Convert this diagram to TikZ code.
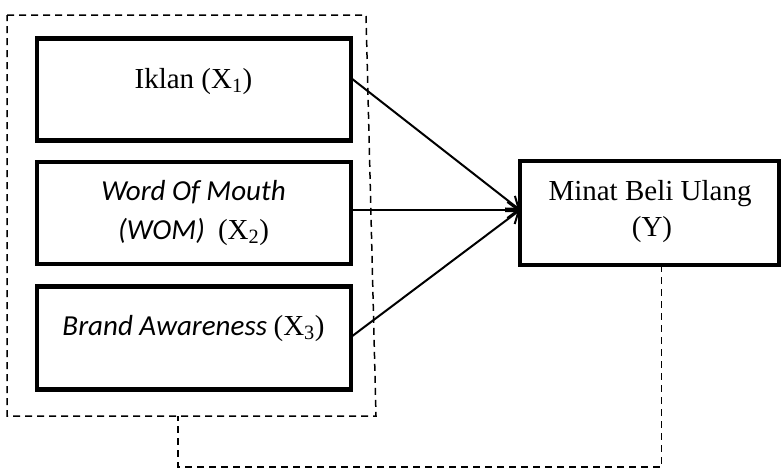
\documentclass[tikz,border=0pt]{standalone}
\usepackage{fontspec}
\setmainfont{Liberation Serif}
\newfontfamily\calibrifont{Carlito}
\usetikzlibrary{arrows.meta,calc}
\begin{document}
\begin{tikzpicture}[x=1pt,y=-1pt,
  box/.style={draw, line width=4.5pt, rectangle, inner sep=0pt, outer sep=0pt},
  link/.style={line width=2pt, -{Straight Barb[length=11pt,width=16pt,line width=2pt]}},
  dashline/.style={line width=1.5pt, dash pattern=on 7pt off 5pt},
  lbl/.style={font=\fontsize{29}{36}\selectfont, inner sep=0pt, anchor=base}]
\useasboundingbox (0,0) rectangle (783,469);
% boxes
\node[box, minimum width=314pt, minimum height=102pt] (b1) at (194,89.5) {};
\node[box, minimum width=314pt, minimum height=102pt] (b2) at (194,213) {};
\node[box, minimum width=314pt, minimum height=103pt] (b3) at (194,338) {};
\node[box, minimum width=259pt, minimum height=104pt] (y) at (649.5,213) {};
% labels
\node[lbl] (t1) at (193.5,88) {Iklan (X\textsubscript{1})};
\node[lbl] (t2a) at (193.5,200) {{\calibrifont\itshape Word Of Mouth}};
\node[lbl] (t2b) at (193.5,239) {{\calibrifont\itshape (WOM)\ \ }(X\textsubscript{2})};
\node[lbl] (t3) at (193.5,335) {{\calibrifont\itshape Brand Awareness }(X\textsubscript{3})};
\node[lbl] (ty1) at (650,200) {Minat Beli Ulang};
\node[lbl] (ty2) at (652,236) {(Y)};
% arrows
\draw[link] ([yshift=11.5pt]b1.east) -- ([yshift=3pt]y.west);
\draw[link] ([yshift=3pt]b2.east) -- ([yshift=3pt]y.west);
\draw[link] ([yshift=1pt]b3.east) -- ([yshift=3pt]y.west);
% dashed group
\coordinate (gtl) at (7,15);
\coordinate (gtr) at (366,15);
\coordinate (gbr) at (376,416);
\coordinate (gbl) at (7,416);
\draw[dashline] (gtl) -- (gtr) -- (gbr) -- (gbl) -- cycle;
\coordinate (gb) at (178,416);
\coordinate (turn) at (178,467);
\draw[dashline] ([xshift=12pt]y.south) |- (turn) -- (gb);
\end{tikzpicture}
\end{document}
